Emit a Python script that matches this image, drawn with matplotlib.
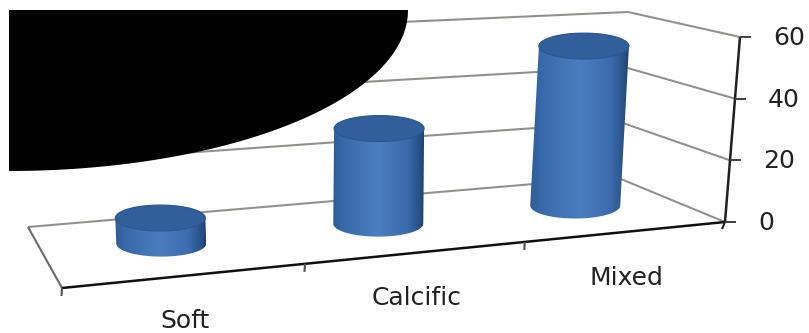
import numpy as np
import matplotlib
matplotlib.use('Agg')
import matplotlib.pyplot as plt
from matplotlib.colors import LinearSegmentedColormap
from matplotlib.patches import Polygon

categories = ['Soft', 'Calcific', 'Mixed']
values = [8, 31, 54]
y_ticks = [0, 20, 40, 60]

# box corners on the canvas
FRONT_L = np.array([62.0, 288.0])
FRONT_R = np.array([725.0, 222.0])
BACK_L = np.array([28.0, 227.0])
BACK_R = np.array([616.0, 177.0])
# canvas offset of a full 60 unit column at the corners
UP_FRONT_L = np.array([-12.0, -205.0])
UP_FRONT_R = np.array([15.0, -185.0])
UP_BACK_L = np.array([-12.0, -188.0])
UP_BACK_R = np.array([12.0, -165.0])
# category borders along the floor are not evenly spaced
BORDERS = [0, 0.3665, 0.698, 1.0]
BAR_DEPTH = 0.55
BAR_SHIFT = 0.0065
RX, RY = 45, 13


def warp(u):
    return np.interp(u, [0, 1 / 3, 2 / 3, 1], BORDERS)


def project(u, val, depth):
    # category position u (0-1), value, depth (0 front, 1 back) -> canvas point
    s = warp(u)
    floor = (1 - depth) * ((1 - s) * FRONT_L + s * FRONT_R) + depth * ((1 - s) * BACK_L + s * BACK_R)
    up = (1 - depth) * ((1 - s) * UP_FRONT_L + s * UP_FRONT_R) + depth * ((1 - s) * UP_BACK_L + s * UP_BACK_R)
    return floor + up * val / 60.0


def draw_line(ax, a, b, color, lw, z=2):
    ax.plot([a[0], b[0]], [a[1], b[1]], color=color, lw=lw, solid_capstyle='butt', zorder=z)


fig = plt.figure(figsize=(8.09, 3.33), dpi=100)
ax = fig.add_axes([0, 0, 1, 1])
ax.axis('off')

GRID = '#92928d'
INK = '#222222'

# walls and floor
for v in y_ticks:
    draw_line(ax, project(0, v, 1), project(1, v, 1), GRID, 1.5)
    draw_line(ax, project(1, v, 1), project(1, v, 0), GRID, 1.5)
draw_line(ax, project(0, 0, 0), project(0, 0, 1), '#6a6a68', 1.5)

# axes
draw_line(ax, project(0, 0, 0), project(1, 0, 0), '#101010', 1.8, 3)
draw_line(ax, project(1, 0, 0), project(1, 60, 0), '#202020', 1.8, 3)
for u in [0, 1 / 3, 2 / 3]:
    p = project(u, 0, 0)
    draw_line(ax, p, p + np.array([-0.5, 8]), '#505050', 1.5, 3)
p = project(1, 0, 0)
draw_line(ax, p + np.array([-3, 7]), p, '#202020', 1.5, 3)
for v in y_ticks:
    p = project(1, v, 0)
    draw_line(ax, p, p + np.array([11, 0]), '#404040', 1.4, 3)
    ax.text(p[0] + 33, p[1] + 1, str(v), fontsize=18, family='DejaVu Sans',
            color=INK, ha='left', va='center', zorder=5)

# cylinders
side_cmap = LinearSegmentedColormap.from_list('side', [
    (0.0, '#2d5c98'), (0.12, '#386aab'), (0.5, '#4b7ec0'),
    (0.82, '#3a6bac'), (0.95, '#285288'), (1.0, '#1f4272')])
t = np.linspace(0, 2 * np.pi, 120)
half = np.linspace(0, np.pi, 60)
for i, val in enumerate(values):
    # middle of the warped category span
    s_mid = (BORDERS[i] + BORDERS[i + 1]) / 2 + BAR_SHIFT
    u = np.interp(s_mid, BORDERS, [0, 1 / 3, 2 / 3, 1])
    bottom = project(u, 0, BAR_DEPTH)
    top = project(u, val, BAR_DEPTH)

    low = np.column_stack([bottom[0] + RX * np.cos(half), bottom[1] + RY * np.sin(half)])
    high = np.column_stack([top[0] - RX * np.cos(half), top[1] - RY * np.sin(half)])
    outline = np.vstack([low, high])
    body = Polygon(outline, closed=True, facecolor='none', edgecolor='none')
    ax.add_patch(body)
    x0, x1 = outline[:, 0].min(), outline[:, 0].max()
    y0, y1 = outline[:, 1].min(), outline[:, 1].max()
    grad = np.linspace(0, 1, 128).reshape(1, -1)
    im = ax.imshow(grad, extent=[x0, x1, y1, y0], cmap=side_cmap, aspect='auto', zorder=4)
    im.set_clip_path(body)

    cap = np.column_stack([top[0] + RX * np.cos(t), top[1] + RY * np.sin(t)])
    ax.add_patch(Polygon(cap, closed=True, facecolor='#305f9c', edgecolor='#2b5892', lw=0.8, zorder=4.5))

    # category label
    foot = project(u, 0, 0)
    ax.text(foot[0] - 3, foot[1] + 46, categories[i], fontsize=18, family='DejaVu Sans',
            color=INK, ha='center', va='center', zorder=5)

ax.set_xlim(0, 809)
ax.set_ylim(333, 0)

# black quarter ellipse over the top left corner
theta = np.linspace(0, np.pi / 2, 120)
blob = np.vstack([[[9, 10]], np.column_stack([9 + 399 * np.cos(theta), 10 + 161 * np.sin(theta)])])
ax.add_patch(Polygon(blob, closed=True, facecolor='black', edgecolor='none', zorder=6))

fig.savefig('out.png', dpi=100, facecolor='white')
